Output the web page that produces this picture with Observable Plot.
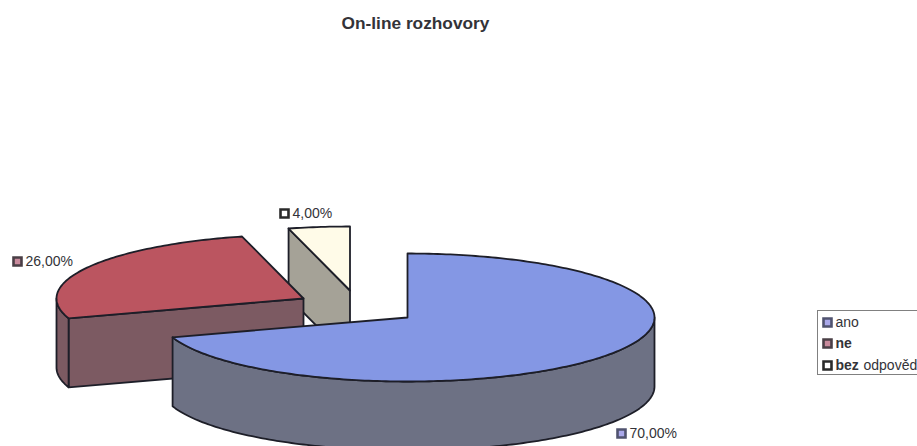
<!DOCTYPE html>
<html>
<head>
<meta charset="utf-8">
<script src="https://cdn.jsdelivr.net/npm/d3@7"></script>
<script src="https://cdn.jsdelivr.net/npm/@observablehq/plot@0.6"></script>
<style>
  html, body { margin: 0; padding: 0; background: #fff; overflow: hidden; }
</style>
</head>
<body>
<div id="chart"></div>
<script>
// Survey answers
const chartTitle = "On-line rozhovory";
const categories = ["ano", "ne", "bez odpověd"];
const shares = [70, 26, 4];
const shareLabels = ["70,00%", "26,00%", "4,00%"];

// Slice colours: top surface, outer wall, cut face
const topColors = ["#8497e4", "#bb5560", "#fffbe8"];
const wallColors = ["#6d7184", "#7c5a62", "#a5a297"];
const cutColors = ["#6d7184", "#7c5a62", "#a5a297"];
const swatchFills = ["#aaa8ea", "#c98a9c", "#ffffff"];
const swatchStrokes = ["#50536f", "#4a3f46", "#2a2a2a"];

// Tilted pie layout: each exploded slice keeps its own centre
const sliceCenters = [[407, 317], [303, 298], [349.5, 290]];
const radiusX = 247;
const radiusY = 64;
const depth = 69;

// Where each share label sits
const labelAnchors = [[629, 433], [25, 261], [292, 213]];

// Legend box and rows
const legendBox = {x1: 817.5, x2: 940, y1: 310.5, y2: 374.5};
const legendX = 827;
const legendTextX = 835;
const legendRows = [322, 343, 365];

const ink = "#1d1e28";
const textInk = "#333338";

// A rim point at a given angle, clockwise from twelve o'clock
function rimPoint([cx, cy], degrees, drop = 0) {
  const t = degrees * Math.PI / 180;
  return {x: cx + radiusX * Math.sin(t), y: cy - radiusY * Math.cos(t) + drop};
}
function rimArc(center, from, to, drop = 0) {
  const steps = Math.max(1, Math.ceil(Math.abs(to - from)));
  return d3.range(steps + 1).map(i => rimPoint(center, from + (to - from) * i / steps, drop));
}
const polygon = (points, fill, width = 1.8) =>
  Plot.line([...points, points[0]], {x: "x", y: "y", fill, stroke: ink, strokeWidth: width});

// Later slices are painted over earlier ones, so work from the back
function sliceMarks(i, start, end) {
  const center = sliceCenters[i];
  const apex = {x: center[0], y: center[1]};
  const marks = [];
  if (Math.sin(start * Math.PI / 180) < -1e-6) {
    const rim = rimPoint(center, start);
    marks.push(polygon(
      [apex, rim, {x: rim.x, y: rim.y + depth}, {x: apex.x, y: apex.y + depth}],
      cutColors[i]
    ));
  }
  const from = Math.max(start, 90);
  const to = Math.min(end, 270);
  if (from < to) {
    marks.push(polygon(
      [...rimArc(center, from, to), ...rimArc(center, to, from, depth)],
      wallColors[i]
    ));
  }
  marks.push(polygon([apex, ...rimArc(center, start, end)], topColors[i]));
  return marks;
}

const boundaries = d3.cumsum(shares).map(v => v * 3.6);
const drawOrder = [2, 1, 0];
const pieMarks = drawOrder.flatMap(i =>
  sliceMarks(i, i === 0 ? 0 : boundaries[i - 1], boundaries[i])
);

const labelData = shareLabels.map((label, i) => ({
  label, x: labelAnchors[i][0], y: labelAnchors[i][1], i
}));
const legendData = categories.map((name, i) => ({name, y: legendRows[i], i}));

// The legend sets the leading word of "ne" and "bez ..." in bold
const legendRuns = categories.flatMap((name, i) => {
  const [first, ...rest] = name.split(" ");
  return [{text: first, y: legendRows[i], bold: i > 0, x: legendTextX}]
    .concat(rest.length ? [{text: rest.join(" "), y: legendRows[i], bold: false, x: legendTextX + 28}] : []);
});

const chart = Plot.plot({
  width: 917,
  height: 446,
  margin: 0,
  x: {domain: [0, 917], range: [0, 917], axis: null},
  y: {domain: [0, 446], range: [0, 446], axis: null},
  style: {background: "#fff", fontFamily: "'Liberation Sans', Arial, sans-serif"},
  marks: [
    Plot.text([chartTitle], {
      x: () => 415, y: () => 23, text: d => d,
      fontSize: 17.3, fontWeight: "bold", fill: textInk
    }),
    ...pieMarks,
    // Share labels with their colour keys
    Plot.dot(labelData, {
      x: d => d.x - 8, y: "y", symbol: "square", r: 4.5,
      fill: d => swatchFills[d.i], stroke: d => swatchStrokes[d.i], strokeWidth: 2.6
    }),
    Plot.text(labelData, {
      x: "x", y: "y", text: "label", textAnchor: "start",
      fontSize: 14, fill: textInk
    }),
    // Legend
    Plot.rect([legendBox], {
      x1: "x1", x2: "x2", y1: "y1", y2: "y2",
      fill: "#fff", stroke: "#808080", strokeWidth: 1
    }),
    Plot.dot(legendData, {
      x: () => legendX, y: "y", symbol: "square", r: 4.5,
      fill: d => swatchFills[d.i], stroke: d => swatchStrokes[d.i], strokeWidth: 2.6
    }),
    Plot.text(legendRuns.filter(d => !d.bold), {
      x: "x", y: "y", text: "text", textAnchor: "start",
      fontSize: 14, fill: textInk
    }),
    Plot.text(legendRuns.filter(d => d.bold), {
      x: "x", y: "y", text: "text", textAnchor: "start",
      fontSize: 14, fontWeight: "bold", fill: textInk
    })
  ]
});
document.getElementById("chart").append(chart);
</script>
</body>
</html>
